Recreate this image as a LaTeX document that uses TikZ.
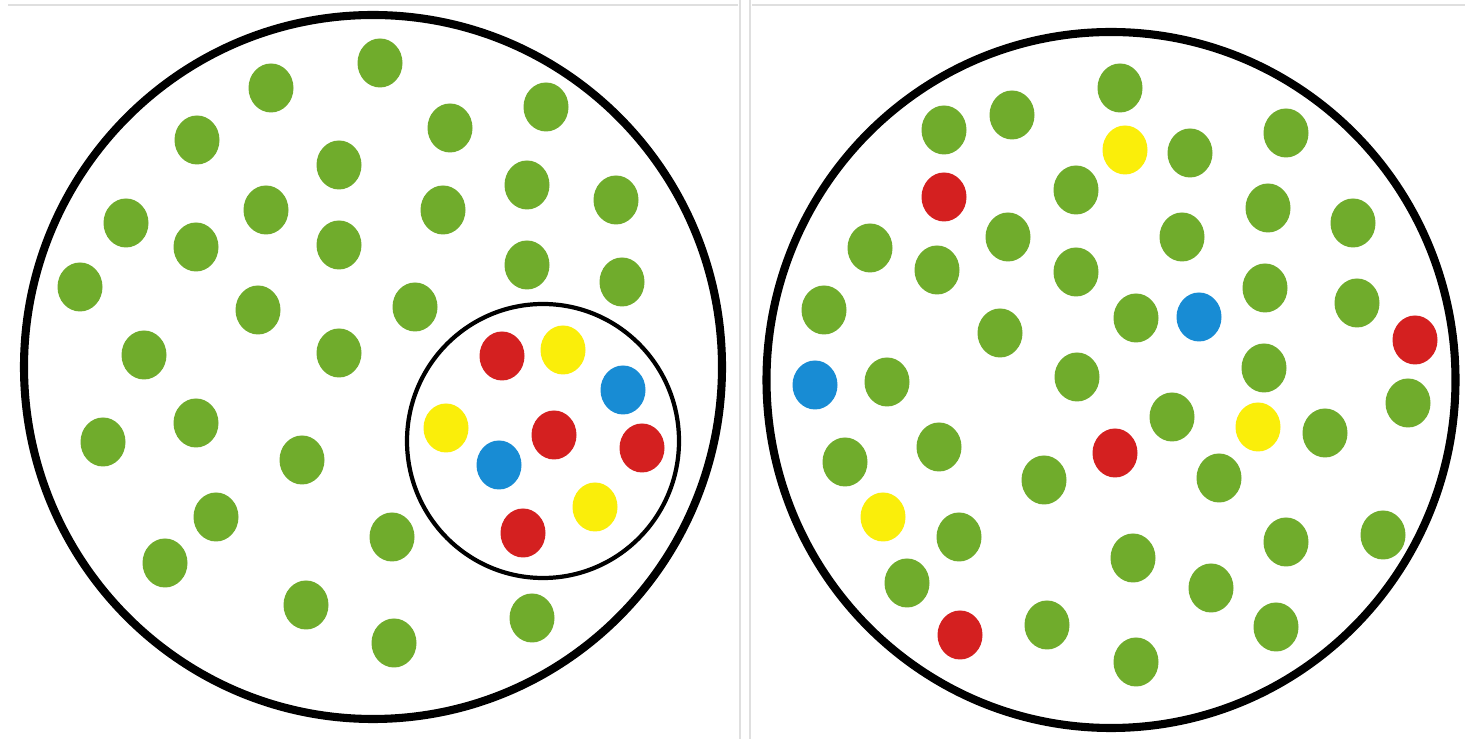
\documentclass[tikz,border=0pt]{standalone}
\usepackage{tikz}
\usetikzlibrary{shapes.geometric}
\definecolor{dotg}{RGB}{112,172,44}
\definecolor{dotr}{RGB}{212,32,32}
\definecolor{doty}{RGB}{250,238,10}
\definecolor{dotb}{RGB}{24,140,212}

\begin{document}
\begin{tikzpicture}[
  x=0.1mm, y=-0.1mm,
  dot/.style={ellipse, inner sep=0pt, minimum width=4.5mm, minimum height=4.9mm},
  gdot/.style={dot, fill=dotg},
  rdot/.style={dot, fill=dotr},
  ydot/.style={dot, fill=doty},
  bdot/.style={dot, fill=dotb},
  ring/.style={ellipse, draw=black, line width=2.3pt, inner sep=0pt},
  frame/.style={draw=gray!25, line width=0.4pt}
]
\useasboundingbox[fill=white] (0,0) rectangle (1465,739);

% Panel frames
\draw[frame] (8,5) -- (738,5);
\draw[frame] (752,5) -- (1465,5);
\draw[frame] (740,0) -- (740,739);
\draw[frame] (750,0) -- (750,739);

% Left panel
\node[ring, minimum width=69.8mm, minimum height=70.4mm] (big1) at (373,367) {};
\foreach \x/\y [count=\i] in {380/63,271/88,546/107,197/140,450/128,339/165,527/185,
  616/200,126/223,266/210,443/210,196/247,339/245,527/265,622/282,80/287,258/310,
  415/307,144/355,339/353,103/442,196/423,302/460,216/517,392/537,165/563,306/605,
  394/643,532/618}
  \node[gdot] (lg\i) at (\x,\y) {};

% Inner group
\node[ring, line width=1.2pt, minimum width=27.2mm, minimum height=27.4mm] (sub) at (543,441) {};
\node[rdot] (lr1) at (502,356) {};
\node[ydot] (ly1) at (563,350) {};
\node[bdot] (lb1) at (623,390) {};
\node[ydot] (ly2) at (446,428) {};
\node[rdot] (lr2) at (554,435) {};
\node[rdot] (lr3) at (642,448) {};
\node[bdot] (lb2) at (499,465) {};
\node[ydot] (ly3) at (595,507) {};
\node[rdot] (lr4) at (523,533) {};

% Right panel
\node[ring, minimum width=68.9mm, minimum height=69.6mm] (big2) at (1111,380) {};
\foreach \x/\y [count=\i] in {1120/88,944/130,1012/115,1190/153,1286/133,1076/190,
  1268/208,1353/223,1008/237,870/248,937/270,1076/272,1182/237,1265/288,1357/303,
  824/310,1000/333,1136/318,887/382,1077/377,1264/368,1408/403,1172/417,1325/433,
  939/447,845/462,1044/480,1219/478,959/537,1133/558,1286/542,1383/535,907/583,
  1211/588,1047/625,1276/627,1136/662}
  \node[gdot] (rg\i) at (\x,\y) {};
\node[ydot] (ry1) at (1125,150) {};
\node[ydot] (ry2) at (1258,427) {};
\node[ydot] (ry3) at (883,517) {};
\node[rdot] (rr1) at (944,197) {};
\node[rdot] (rr2) at (1415,340) {};
\node[rdot] (rr3) at (1115,453) {};
\node[rdot] (rr4) at (960,635) {};
\node[bdot] (rb1) at (1199,317) {};
\node[bdot] (rb2) at (815,385) {};

\end{tikzpicture}
\end{document}
